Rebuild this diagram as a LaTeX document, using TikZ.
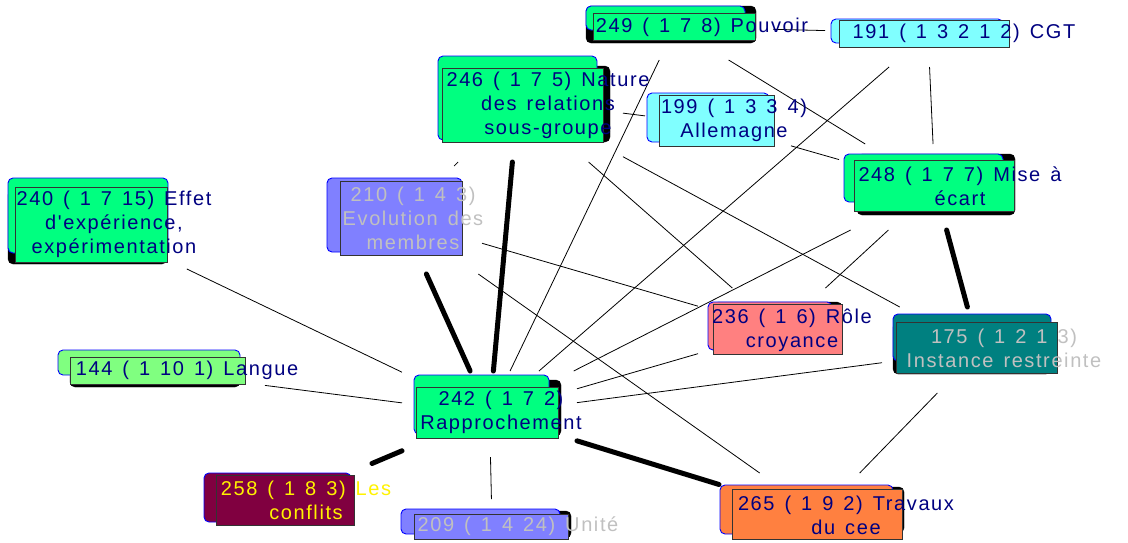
\documentclass[tikz,border=0pt]{standalone}
\usepackage{fontspec}
\newfontfamily\mapfont{Liberation Sans}[LetterSpace=8]
\newcommand{\widegap}{\spaceskip=0.5em\relax}
\definecolor{mint}{HTML}{00FF80}
\definecolor{lightmint}{HTML}{80FF80}
\definecolor{aqua}{HTML}{80FFFF}
\definecolor{lilac}{HTML}{8080FF}
\definecolor{salmon}{HTML}{FF8080}
\definecolor{teal}{HTML}{008080}
\definecolor{tangerine}{HTML}{FF8040}
\definecolor{wine}{HTML}{800040}
\definecolor{navy}{HTML}{000080}
\definecolor{silver}{HTML}{C0C0C0}
\tikzset{
  hub/.style={inner sep=0pt, outer sep=0pt},
  shadowbox/.style={rounded corners=5pt, fill=black},
  backbox/.style={rounded corners=5pt, draw=blue, line width=0.9pt, fill=#1},
  frontbox/.style={draw=black!80, line width=0.9pt, fill=#1},
  lbl/.style={inner sep=0pt, align=center, text=navy, font=\mapfont\fontsize{20}{24}\selectfont, execute at begin node=\widegap},
  link/.style={line width=0.8pt},
  strong/.style={line width=5pt, line cap=round}
}
\begin{document}
\begin{tikzpicture}[x=1pt, y=-1pt]
\useasboundingbox (0,0) rectangle (1128,542);

% regions the links attach to
\node[hub, minimum width=196, minimum height=66] (c249) at (675,27) {};
\node[hub, minimum width=206, minimum height=68] (c191) at (928,33) {};
\node[hub, minimum width=210, minimum height=124] (c246) at (518,100) {};
\node[hub, minimum width=146, minimum height=52] (c199) at (718,125) {};
\node[hub, minimum width=160, minimum height=108] (c210) at (402,220) {};
\node[hub, minimum width=160, minimum height=72] (c240) at (112,233) {};
\node[hub, minimum width=192, minimum height=86] (c248) at (935,187) {};
\node[hub, minimum width=226, minimum height=40] (c144) at (152,371) {};
\node[hub, minimum width=164, minimum height=84] (c236) at (780,330) {};
\node[hub, minimum width=194, minimum height=86] (c175) at (979,350) {};
\node[hub, minimum width=175, minimum height=86] (c242) at (489.5,414) {};
\node[hub, minimum width=174, minimum height=80] (c258) at (285,500) {};
\node[hub, minimum width=160, minimum height=50] (c209) at (492,524) {};
\node[hub, minimum width=200, minimum height=84] (c265) at (819,515) {};

% links
\draw[link] (c249) -- (c191);
\draw[link] (c249) -- (c248);
\draw[link] (c249) -- (c242);
\draw[link] (c191) -- (c248);
\draw[link] (c191) -- (c242);
\draw[link] (c246) -- (c199);
\draw[link] (c199) -- (c248);
\draw[link] (c246) -- (c236);
\draw[link] (c246) -- (c175);
\draw[link] (c210) -- (c246);
\draw[link] (c210) -- (c236);
\draw[link] (c210) -- (c265);
\draw[link] (c248) -- (c242);
\draw[link] (c248) -- (c236);
\draw[link] (c236) -- (c242);
\draw[link] (c175) -- (c242);
\draw[link] (c175) -- (c265);
\draw[link] (c240) -- (c242);
\draw[link] (c144) -- (c242);
\draw[link] (c242) -- (c209);
\draw[strong] (c246) -- (c242);
\draw[strong] (c210) -- (c242);
\draw[strong] (c248) -- (c175);
\draw[strong] (c242) -- (c265);
\draw[strong] (c242) -- (c258);

% 240
\draw[shadowbox] (8,190) rectangle (167,264);
\draw[backbox=mint] (8,178) rectangle (168,253);
\draw[frontbox=mint] (15,187) rectangle (167,262);
\node[lbl] (t240) at (114,224) {240 ( 1 7 15) Effet\\d'expérience,\\expérimentation};
% 144
\draw[shadowbox] (70,360) rectangle (240,387);
\draw[backbox=lightmint] (58,350) rectangle (240,375);
\draw[frontbox=lightmint] (70,357) rectangle (245,384);
\node[lbl] (t144) at (187,370) {144 ( 1 10 1) Langue};
% 210
\draw[backbox=lilac] (327,178) rectangle (462,252);
\draw[frontbox=lilac] (340,181) rectangle (462,255);
\node[lbl, text=silver] (t210) at (413,218) {210 ( 1 4 3)\\Evolution des\\membres};
% 246
\draw[shadowbox] (450,66) rectangle (610,142);
\draw[backbox=mint] (438,56) rectangle (597,140);
\draw[frontbox=mint] (442,68) rectangle (603,142);
\node[lbl] (t246) at (548,105) {246 ( 1 7 5) Nature\\des relations\\sous-groupe};
% 249
\draw[shadowbox] (586,6) rectangle (756,43);
\draw[backbox=mint] (586,6) rectangle (745,30);
\draw[frontbox=mint] (593,13) rectangle (755,40);
\node[lbl] (t249) at (702,27) {249 ( 1 7 8) Pouvoir};
% 191
\draw[backbox=aqua] (831,19) rectangle (1003,43);
\draw[frontbox=aqua] (839,20) rectangle (1009,47);
\node[lbl] (t191) at (964,33) {191 ( 1 3 2 1 2) CGT};
% 199
\draw[backbox=aqua] (647,93) rectangle (769,142);
\draw[frontbox=aqua] (659,95) rectangle (774,146);
\node[lbl] (t199) at (734,120) {199 ( 1 3 3 4)\\Allemagne};
% 248
\draw[shadowbox] (857,154) rectangle (1015,215);
\draw[backbox=mint] (844,154) rectangle (1003,202);
\draw[frontbox=mint] (854,160) rectangle (1014,211);
\node[lbl] (t248) at (960,186) {248 ( 1 7 7) Mise à\\écart};
% 236
\draw[shadowbox] (713,302) rectangle (842,352);
\draw[backbox=salmon] (708,302) rectangle (832,350);
\draw[frontbox=salmon] (713,304) rectangle (842,354);
\node[lbl] (t236) at (792,330) {236 ( 1 6) Rôle\\croyance};
% 175
\draw[shadowbox] (893,322) rectangle (1051,374);
\draw[backbox=teal] (893,314) rectangle (1051,361);
\draw[frontbox=teal] (896,322) rectangle (1057,373);
\node[lbl, text=silver] (t175) at (1004,348) {175 ( 1 2 1 3)\\Instance restreinte};
% 242
\draw[shadowbox] (420,380) rectangle (561,436);
\draw[backbox=mint] (414,375) rectangle (549,434);
\draw[frontbox=mint] (416,387) rectangle (558,438);
\node[lbl] (t242) at (501,412) {242 ( 1 7 2)\\Rapprochement};
% 258
\draw[backbox=wine] (204,473) rectangle (351,522);
\draw[frontbox=wine] (216,475) rectangle (354,525);
\node[lbl, text=yellow] (t258) at (306,500) {258 ( 1 8 3) Les\\conflits};
% 209
\draw[shadowbox] (420,511) rectangle (571,538);
\draw[backbox=lilac] (401,509) rectangle (560,534);
\draw[frontbox=lilac] (414,514) rectangle (568,539);
\node[lbl, text=silver] (t209) at (518,526) {209 ( 1 4 24) Unité};
% 265
\draw[shadowbox] (732,487) rectangle (904,533);
\draw[backbox=tangerine] (720,485) rectangle (893,534);
\draw[frontbox=tangerine] (732,489) rectangle (902,539);
\node[lbl] (t265) at (846,515) {265 ( 1 9 2) Travaux\\du cee};
\end{tikzpicture}
\end{document}
